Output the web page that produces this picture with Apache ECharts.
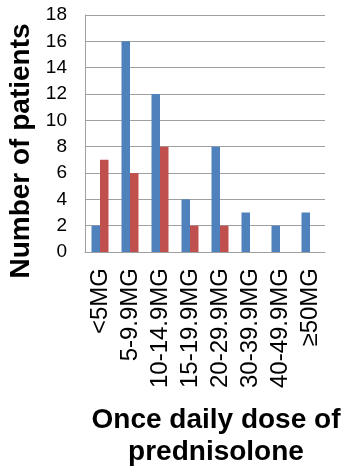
<!DOCTYPE html>
<html>
<head>
<meta charset="utf-8">
<script src="https://cdn.jsdelivr.net/npm/echarts@6/dist/echarts.min.js"></script>
<style>html,body{margin:0;padding:0;background:#fff}#c{width:350px;height:470px}</style>
</head>
<body>
<div id="c"></div>
<script>
const categories = ['<5MG', '5-9.9MG', '10-14.9MG', '15-19.9MG', '20-29.9MG', '30-39.9MG', '40-49.9MG', '\u226550MG'];
const seriesA = [2, 16, 12, 4, 8, 3, 2, 3];
const seriesB = [7, 6, 8, 2, 2, 0, 0, 0];
const yTicks = [0, 2, 4, 6, 8, 10, 12, 14, 16, 18];
const yTitle = 'Number of patients';
const xTitle = 'Once daily dose of\nprednisolone';

const FONT = '"Liberation Sans", Arial, sans-serif';
const chart = echarts.init(document.getElementById('c'), null, {renderer: 'canvas'});
chart.setOption({
  animation: false,
  backgroundColor: '#fff',
  grid: {left: 85, right: 25, top: 15, bottom: 218, containLabel: false},
  xAxis: {
    type: 'category',
    data: categories,
    axisLine: {show: true, lineStyle: {color: '#a0a0a0', width: 1}},
    axisTick: {show: false},
    axisLabel: {rotate: 90, margin: 16, color: '#000', fontFamily: FONT, fontSize: 24, interval: 0}
  },
  yAxis: {
    type: 'value',
    min: yTicks[0],
    max: yTicks[yTicks.length - 1],
    interval: 2,
    axisLine: {show: true, lineStyle: {color: '#a0a0a0', width: 1}},
    axisTick: {show: false},
    splitLine: {show: true, lineStyle: {color: '#a0a0a0', width: 1}},
    axisLabel: {margin: 18, color: '#000', fontFamily: FONT, fontSize: 19}
  },
  series: [
    {type: 'bar', data: seriesA, barWidth: 8.5, barGap: '0%', itemStyle: {color: '#4F81BD'}},
    {type: 'bar', data: seriesB, barWidth: 8.5, barGap: '0%', itemStyle: {color: '#C0504D'}}
  ],
  graphic: [
    {type: 'text', x: 21, y: 151, rotation: Math.PI / 2,
     style: {text: yTitle, fill: '#000', font: 'bold 28px ' + FONT, textAlign: 'center', textVerticalAlign: 'middle'}},
    {type: 'text', x: 216, y: 404,
     style: {text: xTitle, fill: '#000', font: 'bold 28px ' + FONT, lineHeight: 32, textAlign: 'center', textVerticalAlign: 'top'}}
  ]
});
</script>
</body>
</html>
